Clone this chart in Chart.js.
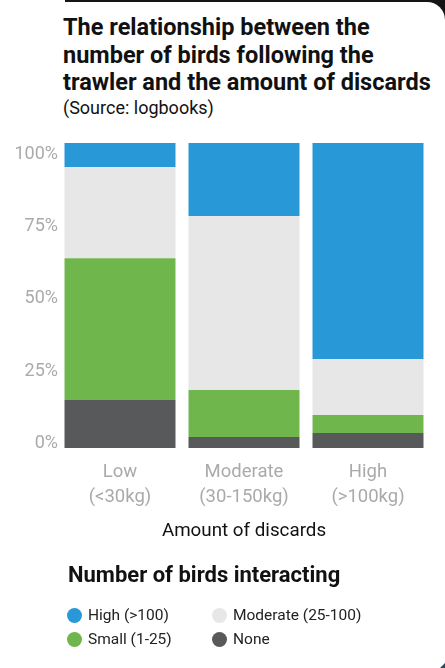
<!DOCTYPE html>
<html>
<head>
<meta charset="utf-8">
<script src="https://cdn.jsdelivr.net/npm/chart.js@4/dist/chart.umd.min.js"></script>
<style>
  html, body { margin: 0; padding: 0; }
  body { width: 445px; height: 668px; position: relative; overflow: hidden; background: #fff; font-family: Roboto, sans-serif; }
  .edge { position: absolute; left: 65px; top: 0; width: 380px; height: 24px; background: #151515; }
  .corner { position: absolute; right: 0; bottom: 0; width: 5px; height: 5px; background: #2b4a5c; clip-path: polygon(100% 0, 100% 100%, 0 100%); }
  .card { position: absolute; left: 0; top: 1.5px; width: 445px; height: 668px; background: #fff; border-top-right-radius: 18px; }
  h1 { position: absolute; left: 63px; top: 14px; margin: 0; font-size: 23.5px; line-height: 27.5px; font-weight: 700; color: #111; white-space: nowrap; }
  .src { position: absolute; left: 63px; top: 97px; margin: 0; font-size: 18px; line-height: 22px; color: #111; }
  #wrap { position: absolute; left: 0; top: 0; width: 445px; height: 668px; }
  .legend-title { position: absolute; left: 68px; top: 563px; margin: 0; font-size: 22px; line-height: 24px; font-weight: 700; color: #111; }
  .legend { position: absolute; left: 67px; top: 603px; display: grid; grid-template-columns: 145px auto; font-size: 15.5px; line-height: 24px; color: #222; }
  .legend span { display: flex; align-items: center; }
  .legend i { display: inline-block; width: 15px; height: 15px; border-radius: 50%; margin-right: 6px; }
</style>
</head>
<body>
<div class="edge"></div>
<div class="card"></div>
<div class="corner"></div>
<h1>The relationship between the<br>number of birds following the<br>trawler and the amount of discards</h1>
<p class="src">(Source: logbooks)</p>
<div id="wrap"><canvas id="birds"></canvas></div>
<p class="legend-title">Number of birds interacting</p>
<div class="legend" id="legend"></div>
<script>
// share of trips (%) per discard level
var categories = [['Low', '(<30kg)'], ['Moderate', '(30-150kg)'], ['High', '(>100kg)']];
var noneBirds = [15.7, 3.6, 4.9];
var smallBirds = [46.5, 15.4, 5.9];
var moderateBirds = [29.9, 57.1, 18.4];
var highBirds = [7.9, 23.9, 70.8];
var yTicks = [0, 25, 50, 75, 100];

var datasets = [
    { label: 'None', data: noneBirds, backgroundColor: '#58595b' },
    { label: 'Small (1-25)', data: smallBirds, backgroundColor: '#6fb64d' },
    { label: 'Moderate (25-100)', data: moderateBirds, backgroundColor: '#e7e7e7' },
    { label: 'High (>100)', data: highBirds, backgroundColor: '#2898d6' }
];
datasets.forEach(function (d) {
    d.yAxisID = 'y';
    d.categoryPercentage = 1;
    d.barPercentage = 0.895;
});

var ctx = document.getElementById('birds');
var myChart = new Chart(ctx, {
    type: 'bar',
    data: { labels: categories, datasets: datasets },
    options: {
        responsive: true,
        maintainAspectRatio: false,
        animation: false,
        layout: { padding: { top: 143, left: 0, right: 15, bottom: 120 } },
        plugins: {
            legend: { display: false },
            tooltip: { enabled: false }
        },
        scales: {
            y: {
                stacked: true,
                min: 0,
                max: 100,
                display: false
            },
            // tick labels sit on a slightly inset scale
            yLabels: {
                position: 'left',
                min: -1.55,
                max: 103.87,
                grid: { display: false, drawTicks: false },
                border: { display: false },
                afterBuildTicks: function (scale) {
                    scale.ticks = yTicks.map(function (v) { return { value: v }; });
                },
                afterFit: function (scale) { scale.width = 58; },
                ticks: {
                    padding: 0,
                    color: '#aaaaaa',
                    font: { family: 'Roboto', size: 18 },
                    callback: function (v) { return v + '%'; }
                }
            },
            x: {
                stacked: true,
                grid: { display: false, drawTicks: false },
                border: { display: false },
                afterFit: function (scale) { scale.height = 100; },
                ticks: {
                    padding: 11.5,
                    color: '#aaaaaa',
                    font: { family: 'Roboto', size: 18.5, lineHeight: '25px' }
                },
                title: {
                    display: true,
                    text: 'Amount of discards',
                    color: '#111',
                    font: { family: 'Roboto', size: 18.8 },
                    padding: { top: 0, bottom: 5 }
                }
            }
        }
    }
});

// legend: two columns, high/moderate then small/none
var legendOrder = [3, 2, 1, 0];
var legendEl = document.getElementById('legend');
legendOrder.forEach(function (i) {
    var item = document.createElement('span');
    var dot = document.createElement('i');
    dot.style.background = datasets[i].backgroundColor;
    item.appendChild(dot);
    item.appendChild(document.createTextNode(datasets[i].label));
    legendEl.appendChild(item);
});
</script>
</body>
</html>
